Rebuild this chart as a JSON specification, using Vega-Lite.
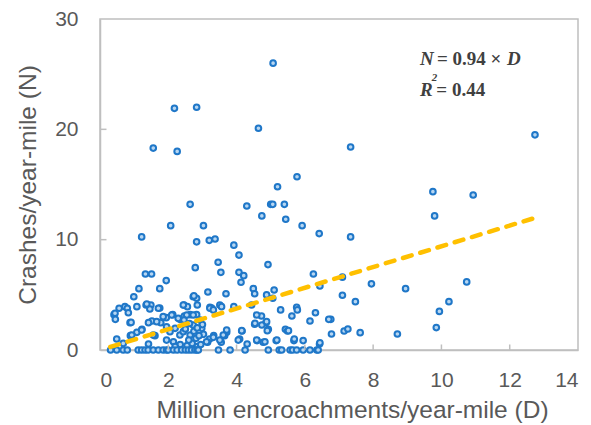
{
  "$schema": "https://vega.github.io/schema/vega-lite/v6.json",
  "autosize": "none",
  "width": 478,
  "height": 331,
  "padding": {"left": 100, "top": 19, "right": 13, "bottom": 75},
  "background": "white",
  "config": {
    "view": {"stroke": "#bfbfbf", "strokeWidth": 1.5},
    "axis": {
      "grid": false,
      "ticks": false,
      "domainColor": "#bfbfbf",
      "domainWidth": 1.5,
      "labelFont": "Liberation Sans",
      "labelFontSize": 21,
      "labelColor": "#595959",
      "titleFont": "Liberation Sans",
      "titleFontSize": 24.5,
      "titleFontWeight": "normal",
      "titleColor": "#595959"
    }
  },
  "datasets": {
    "pts": [
      {"x":5.07,"y":26.0},{"x":2.18,"y":21.9},{"x":2.83,"y":22.0},{"x":4.64,"y":20.1},{"x":1.56,"y":18.3},{"x":2.26,"y":18.0},{"x":7.34,"y":18.4},{"x":12.74,"y":19.5},{"x":5.77,"y":15.7},{"x":5.2,"y":14.8},{"x":9.75,"y":14.35},{"x":10.93,"y":14.05},{"x":9.8,"y":12.15},{"x":7.34,"y":10.25},
      {"x":2.64,"y":13.2},{"x":4.3,"y":13.05},{"x":5.0,"y":13.2},{"x":5.06,"y":13.2},{"x":5.4,"y":13.2},{"x":4.74,"y":12.15},{"x":5.44,"y":11.85},{"x":5.92,"y":11.27},{"x":6.42,"y":10.55},{"x":2.07,"y":11.27},{"x":3.03,"y":11.27},{"x":1.22,"y":10.25},{"x":2.83,"y":9.8},{"x":3.2,"y":9.94},{"x":3.37,"y":10.06},{"x":3.92,"y":9.5},{"x":4.07,"y":8.6},
      {"x":3.46,"y":7.95},{"x":4.92,"y":7.74},{"x":2.79,"y":7.46},{"x":3.54,"y":7.04},{"x":4.07,"y":7.04},{"x":4.21,"y":6.74},{"x":4.13,"y":6.14},{"x":1.33,"y":6.89},{"x":1.51,"y":6.89},{"x":1.94,"y":6.29},{"x":1.14,"y":5.56},{"x":1.75,"y":5.56},{"x":0.99,"y":4.83},{"x":3.16,"y":5.26},{"x":4.49,"y":5.56},{"x":4.53,"y":5.1},{"x":5.1,"y":5.44},{"x":4.88,"y":4.99},{"x":5.06,"y":4.69},{"x":6.25,"y":6.89},{"x":6.44,"y":5.8},{"x":3.69,"y":5.1},{"x":2.73,"y":4.83},{"x":2.83,"y":4.69},{"x":2.85,"y":4.08},
      {"x":7.1,"y":6.6},{"x":7.95,"y":6.0},{"x":8.95,"y":5.56},{"x":10.74,"y":6.17},{"x":7.1,"y":4.96},{"x":7.48,"y":4.38},{"x":10.22,"y":4.38},{"x":9.94,"y":3.5},{"x":6.76,"y":2.78},{"x":6.78,"y":1.45},{"x":7.15,"y":1.72},{"x":7.26,"y":1.9},{"x":7.62,"y":1.57},{"x":8.71,"y":1.45},{"x":9.85,"y":2.03},
      {"x":0.73,"y":3.93},{"x":0.56,"y":3.78},{"x":0.8,"y":3.78},{"x":1.08,"y":3.93},{"x":1.35,"y":4.08},{"x":1.49,"y":4.08},{"x":1.46,"y":3.72},{"x":1.75,"y":3.81},{"x":2.46,"y":4.08},{"x":2.56,"y":3.93},{"x":3.22,"y":3.87},{"x":3.27,"y":3.8},{"x":3.51,"y":4.08},{"x":3.56,"y":3.93},{"x":3.92,"y":3.93},{"x":4.44,"y":4.08},{"x":5.76,"y":3.87},{"x":5.78,"y":3.63},{"x":5.29,"y":3.63},{"x":6.31,"y":3.38},
      {"x":0.41,"y":3.2},{"x":0.45,"y":2.78},{"x":0.88,"y":2.48},{"x":1.52,"y":2.63},{"x":1.42,"y":2.48},{"x":1.94,"y":2.93},{"x":2.13,"y":3.2},{"x":2.34,"y":2.78},{"x":1.78,"y":2.48},{"x":2.47,"y":3.08},{"x":2.64,"y":3.2},{"x":2.83,"y":3.2},{"x":4.73,"y":3.08},{"x":5.62,"y":3.08},{"x":4.86,"y":2.48},{"x":4.53,"y":2.33},{"x":6.15,"y":2.63},{"x":6.7,"y":2.78},{"x":4.93,"y":1.87},{"x":5.43,"y":1.87},{"x":5.49,"y":1.72},{"x":4.16,"y":1.72},{"x":3.71,"y":1.6},{"x":3.65,"y":1.3},{"x":3.33,"y":1.3},{"x":3.21,"y":1.0},{"x":3.15,"y":0.7},{"x":3.03,"y":1.42},{"x":3.55,"y":0.7},{"x":4.09,"y":1.0},{"x":4.31,"y":0.54},{"x":4.6,"y":0.85},{"x":4.78,"y":0.7},{"x":5.16,"y":0.85},{"x":5.68,"y":0.85},{"x":5.95,"y":0.85},{"x":6.43,"y":0.54},{"x":0.49,"y":1.0},{"x":0.89,"y":1.3},{"x":1.08,"y":1.6},{"x":1.23,"y":1.87},{"x":1.61,"y":1.3},{"x":1.42,"y":0.54},
      {"x":0.44,"y":3.33},{"x":0.83,"y":3.38},{"x":1.85,"y":3.02},{"x":2.1,"y":3.17},{"x":2.29,"y":2.87},{"x":1.22,"y":1.81},{"x":0.93,"y":1.36},{"x":1.56,"y":1.36},{"x":1.95,"y":2.11},{"x":2.05,"y":1.66},{"x":2.2,"y":1.96},{"x":2.34,"y":1.36},{"x":1.95,"y":0.9},{"x":2.15,"y":0.75},{"x":0.68,"y":0.6},{"x":1.37,"y":4.17},{"x":1.71,"y":3.78},{"x":0.91,"y":2.5},{"x":1.66,"y":2.57},{"x":2.54,"y":3.17},{"x":2.73,"y":3.17},{"x":2.46,"y":2.72},{"x":2.73,"y":2.27},{"x":2.93,"y":2.72},{"x":2.98,"y":1.96},{"x":2.44,"y":1.66},{"x":2.64,"y":1.36},{"x":2.81,"y":1.06},{"x":3.12,"y":0.75},{"x":3.32,"y":1.15},{"x":3.71,"y":1.81},{"x":3.61,"y":1.36},{"x":3.51,"y":0.9},{"x":4.15,"y":1.75},{"x":4.05,"y":0.9},{"x":4.59,"y":0.9},{"x":4.59,"y":3.17},{"x":4.54,"y":2.42},{"x":4.74,"y":2.27},{"x":4.9,"y":1.75},{"x":3.22,"y":3.78},{"x":3.32,"y":3.63},{"x":2.75,"y":4.9},{"x":2.44,"y":4.08},
      {"x":5.18,"y":0.9},{"x":5.69,"y":1.0},{"x":6.44,"y":0.66},{"x":4.83,"y":0.75},{"x":4.88,"y":2.57},{"x":5.52,"y":1.75},
      {"x":2.55,"y":0.4},{"x":2.7,"y":0.6},{"x":2.85,"y":0.3},{"x":2.6,"y":0.9},{"x":2.9,"y":1.3},{"x":2.5,"y":1.9},{"x":2.75,"y":1.7},{"x":2.95,"y":0.5},{"x":2.35,"y":0.5},{"x":2.2,"y":0.3},{"x":3.0,"y":2.3},{"x":2.62,"y":2.4},{"x":2.85,"y":2.0},
      {"x":0.31,"y":0},{"x":0.49,"y":0},{"x":0.68,"y":0},{"x":0.8,"y":0},{"x":1.12,"y":0},{"x":1.22,"y":0},{"x":1.32,"y":0},{"x":1.41,"y":0},{"x":1.56,"y":0},{"x":1.71,"y":0},{"x":1.85,"y":0},{"x":1.95,"y":0},{"x":2.0,"y":0},{"x":2.15,"y":0},{"x":2.26,"y":0},{"x":2.39,"y":0},{"x":2.5,"y":0},{"x":2.59,"y":0},{"x":2.68,"y":0},{"x":2.78,"y":0},{"x":2.84,"y":0},{"x":2.88,"y":0},{"x":3.47,"y":0},{"x":3.81,"y":0},{"x":4.25,"y":0},{"x":4.93,"y":0},{"x":5.25,"y":0},{"x":5.32,"y":0},{"x":5.57,"y":0},{"x":5.64,"y":0},{"x":5.76,"y":0},{"x":5.95,"y":0},{"x":6.15,"y":0},{"x":6.35,"y":0},{"x":6.39,"y":0}
    ],
    "fit": [{"x":0.3,"y":0.28},{"x":12.8,"y":12.03}],
    "xticks": [{"t":2},{"t":4},{"t":6},{"t":8},{"t":10},{"t":12}],
    "yticks": [{"t":10},{"t":20}]
  },
  "layer": [
    {
      "data": {"name": "pts"},
      "mark": {"type": "point", "shape": "circle", "filled": false, "fill": "#b6d6f2", "fillOpacity": 1, "stroke": "#1f77c8", "strokeWidth": 2, "opacity": 1, "size": 32},
      "encoding": {
        "x": {"field": "x", "type": "quantitative", "scale": {"domain": [0, 14], "nice": false, "zero": false},
              "axis": {"values": [0,2,4,6,8,10,12,14], "title": "Million encroachments/year-mile (D)", "labelPadding": 19, "titlePadding": 8, "titleX": 252}},
        "y": {"field": "y", "type": "quantitative", "scale": {"domain": [0, 30], "nice": false},
              "axis": {"values": [0,10,20,30], "title": "Crashes/year-mile (N)", "labelPadding": 22, "titlePadding": 14}}
      }
    },
    {
      "data": {"name": "xticks"},
      "mark": {"type": "rule", "color": "#bfbfbf", "strokeWidth": 1.5},
      "encoding": {
        "x": {"field": "t", "type": "quantitative"},
        "y": {"datum": 0},
        "y2": {"datum": 0.5}
      }
    },
    {
      "data": {"name": "yticks"},
      "mark": {"type": "rule", "color": "#bfbfbf", "strokeWidth": 1.5},
      "encoding": {
        "y": {"field": "t", "type": "quantitative"},
        "x": {"datum": 0},
        "x2": {"datum": 0.19}
      }
    },
    {
      "data": {"name": "fit"},
      "mark": {"type": "line", "color": "#ffc000", "strokeWidth": 4.5, "strokeDash": [9, 9], "strokeCap": "round"},
      "encoding": {
        "x": {"field": "x", "type": "quantitative"},
        "y": {"field": "y", "type": "quantitative"}
      }
    },
    {
      "data": {"values": [{}]},
      "mark": {"type": "text", "text": "N", "font": "Liberation Serif", "fontSize": 19, "fontWeight": "bold", "fontStyle": "italic", "color": "#404040", "align": "left", "baseline": "alphabetic"},
      "encoding": {"x": {"datum": 9.37}, "y": {"datum": 25.84}}
    },
    {
      "data": {"values": [{}]},
      "mark": {"type": "text", "text": "= 0.94 ×", "font": "Liberation Serif", "fontSize": 19, "fontWeight": "bold", "color": "#404040", "align": "left", "baseline": "alphabetic"},
      "encoding": {"x": {"datum": 9.87}, "y": {"datum": 25.84}}
    },
    {
      "data": {"values": [{}]},
      "mark": {"type": "text", "text": "D", "font": "Liberation Serif", "fontSize": 19, "fontWeight": "bold", "fontStyle": "italic", "color": "#404040", "align": "left", "baseline": "alphabetic"},
      "encoding": {"x": {"datum": 11.92}, "y": {"datum": 25.84}}
    },
    {
      "data": {"values": [{}]},
      "mark": {"type": "text", "text": "R", "font": "Liberation Serif", "fontSize": 19, "fontWeight": "bold", "fontStyle": "italic", "color": "#404040", "align": "left", "baseline": "alphabetic"},
      "encoding": {"x": {"datum": 9.37}, "y": {"datum": 23.0}}
    },
    {
      "data": {"values": [{}]},
      "mark": {"type": "text", "text": "2", "font": "Liberation Serif", "fontSize": 11, "fontWeight": "bold", "fontStyle": "italic", "color": "#404040", "align": "left", "baseline": "alphabetic"},
      "encoding": {"x": {"datum": 9.72}, "y": {"datum": 24.35}}
    },
    {
      "data": {"values": [{}]},
      "mark": {"type": "text", "text": "= 0.44", "font": "Liberation Serif", "fontSize": 19, "fontWeight": "bold", "color": "#404040", "align": "left", "baseline": "alphabetic"},
      "encoding": {"x": {"datum": 9.85}, "y": {"datum": 23.0}}
    }
  ]
}
